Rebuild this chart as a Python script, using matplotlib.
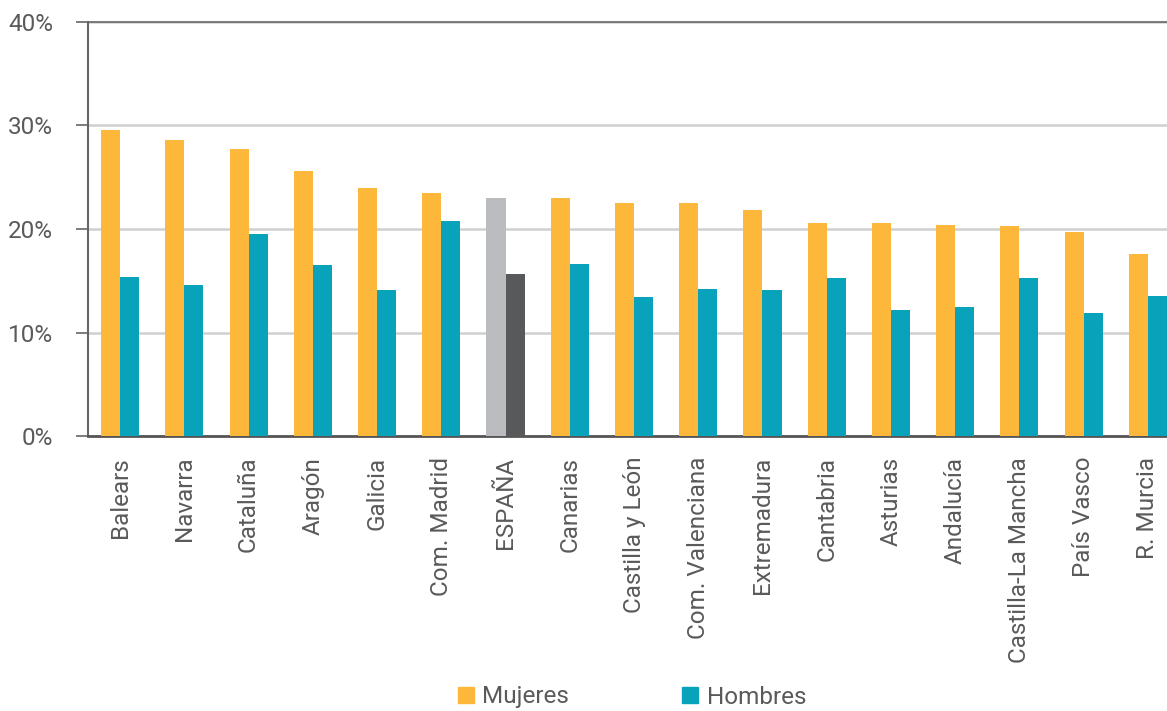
import matplotlib
matplotlib.use("Agg")
import matplotlib.pyplot as plt
import numpy as np
from matplotlib.patches import Patch

regiones = ["Balears", "Navarra", "Cataluña", "Aragón", "Galicia", "Com. Madrid", "ESPAÑA",
            "Canarias", "Castilla y León", "Com. Valenciana", "Extremadura", "Cantabria",
            "Asturias", "Andalucía", "Castilla-La Mancha", "País Vasco", "R. Murcia"]
mujeres = [29.6, 28.6, 27.7, 25.6, 24.0, 23.5, 23.0, 23.0, 22.5, 22.5, 21.8, 20.6, 20.6, 20.4, 20.3, 19.7, 17.6]
hombres = [15.4, 14.6, 19.5, 16.5, 14.1, 20.8, 15.7, 16.6, 13.4, 14.2, 14.1, 15.3, 12.2, 12.5, 15.3, 11.9, 13.5]
yticks = [0, 10, 20, 30, 40]

C_M = "#FDB83B"
C_H = "#08A3BA"
C_M_ES = "#BBBCBF"
C_H_ES = "#58595B"
TXT = "#5a5a5a"

plt.rcParams['font.family'] = ['Roboto', 'DejaVu Sans']

fig = plt.figure(figsize=(11.67, 7.11), dpi=100)
W, H = 1167, 711
ax = fig.add_axes([88 / W, 1 - 436 / H, 1092 / W, (436 - 22) / H])

x = np.arange(len(regiones))
w = 0.297
cm = [C_M_ES if r == "ESPAÑA" else C_M for r in regiones]
ch = [C_H_ES if r == "ESPAÑA" else C_H for r in regiones]
ax.bar(x - w / 2, mujeres, w, color=cm, zorder=3)
ax.bar(x + w / 2, hombres, w, color=ch, zorder=3)

ax.set_xlim(-0.5, len(regiones) - 0.5)
ax.set_ylim(0, 40)
ax.set_yticks(yticks)
ax.set_yticklabels([f"{v}%" for v in yticks])
ax.yaxis.grid(True, color="#d0d0d0", linewidth=1.8, zorder=0)
ax.set_axisbelow(True)

ax.spines["right"].set_visible(False)
ax.spines["top"].set_color("#666666")
ax.spines["top"].set_linewidth(1.2)
ax.spines["left"].set_color("#666666")
ax.spines["left"].set_linewidth(1.5)
ax.spines["bottom"].set_color("#555555")
ax.spines["bottom"].set_linewidth(2)

ax.tick_params(axis="y", length=9, width=1.2, color="#666666", labelsize=17.5, labelcolor=TXT, pad=16)
ax.set_xticks(x)
ax.set_xticklabels(regiones, rotation=90, fontsize=17.5, color=TXT)
ax.tick_params(axis="x", length=0, pad=15)

handles = [Patch(color=C_M, label="Mujeres"), Patch(color=C_H, label="Hombres")]
fig.legend(handles=handles, loc="center", bbox_to_anchor=(632 / W, 1 - 697 / H), ncol=2,
           frameon=False, fontsize=17.5, labelcolor=TXT, handlelength=0.65, handleheight=0.65,
           handletextpad=0.35, columnspacing=4.65)

fig.savefig("out.png", dpi=100)
